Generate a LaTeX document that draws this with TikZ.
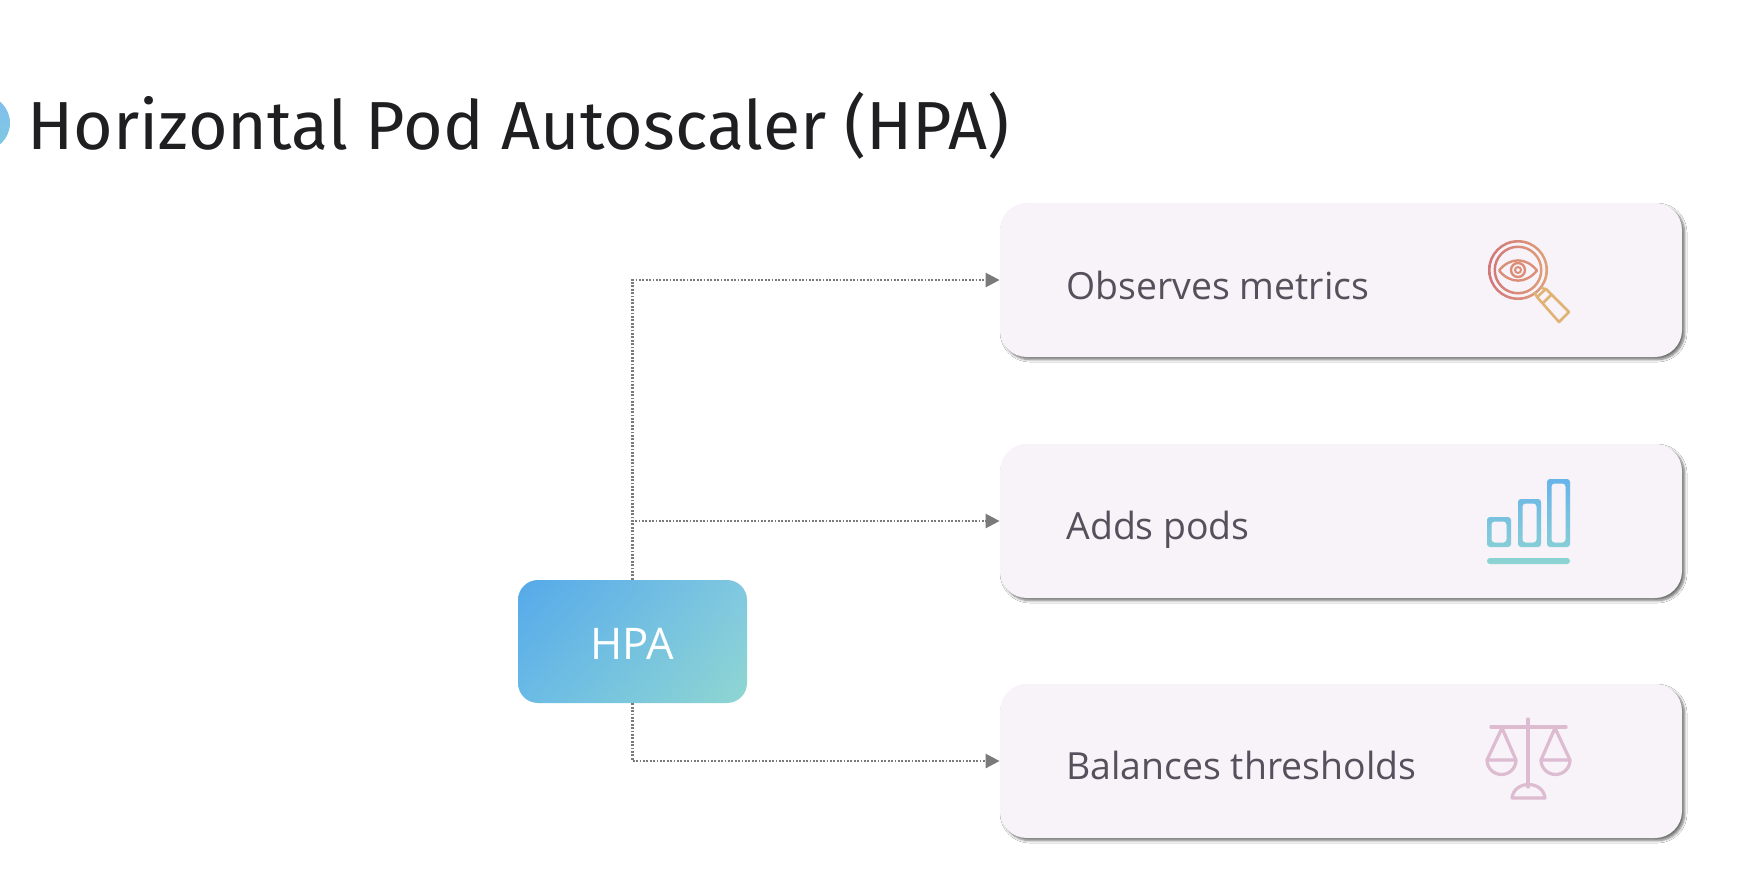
\documentclass[tikz,border=0pt]{standalone}
\usepackage{fontspec}
\setmainfont{Open Sans}
\newfontfamily\titlefont{Fira Sans}
\usetikzlibrary{arrows.meta,shadows.blur,shadings}
\definecolor{cardfill}{HTML}{F7F3F9}
\definecolor{cardtext}{HTML}{55505C}
\definecolor{titleink}{HTML}{1F1F22}
\definecolor{linkgray}{HTML}{7A7A7A}
\definecolor{pinkicon}{HTML}{DDBBD0}
\definecolor{HpaA}{HTML}{55A9E9}
\definecolor{HpaB}{HTML}{80C8E0}
\definecolor{HpaC}{HTML}{6ABBE6}
\definecolor{HpaD}{HTML}{8FD6D1}
\definecolor{EyeInk}{HTML}{DB8F78}
\definecolor{HandleInk}{HTML}{E0B274}
\definecolor{RingA}{HTML}{D2747A}
\definecolor{RingB}{HTML}{DFA277}
\tikzset{
  card/.style={rectangle,fill=cardfill,rounded corners=13.5pt,minimum width=341pt,minimum height=77pt,inner sep=0pt,
    blur shadow={shadow xshift=1.3pt,shadow yshift=-1.3pt,shadow blur steps=6,shadow blur radius=1.2pt,shadow opacity=55}},
  cardlabel/.style={anchor=base west,inner sep=0pt,text=cardtext,font=\fontsize{18.7pt}{22pt}\selectfont},
  link/.style={draw=linkgray,line width=1.3pt,dash pattern=on .9pt off .8pt,-{Triangle[length=7pt,width=7pt,fill=linkgray,sep=0pt]}},
  hpabox/.style={rectangle,rounded corners=10pt,minimum width=114.5pt,minimum height=61.5pt,inner sep=0pt,text=white,
    shading=bilinear interpolation,upper left=HpaA,upper right=HpaB,lower left=HpaC,lower right=HpaD},
  pinkline/.style={draw=pinkicon,line width=1.6pt,line join=round,line cap=round},
}
\begin{document}
\begin{tikzpicture}[x=0.5pt,y=-0.5pt]
\useasboundingbox (0,0) rectangle (1752,880);
\fill[white] (0,0) rectangle (1752,880);
% title
\begin{scope}
\clip (0,0) rectangle (1752,880);
\shade[top color=HpaA!75!white,bottom color=HpaB] (-18,123) circle[radius=28];
\end{scope}
\node[anchor=base west,inner sep=0pt,text=titleink,font=\titlefont\fontsize{34pt}{40pt}\selectfont] (title) at (27,149) {Horizontal Pod Autoscaler (HPA)};
% cards
\node[card] (c1) at (1341,280) {};
\node[card] (c2) at (1341,521) {};
\node[card] (c3) at (1341,761) {};
\node[cardlabel] (t1) at (1066,299) {Observes metrics};
\node[cardlabel] (t2) at (1066,539) {Adds pods};
\node[cardlabel] (t3) at (1066,779) {Balances thresholds};
% hpa
\node[hpabox,shade] (hpa) at (632.5,641.5) {};
\node[text=white,inner sep=0pt,font=\fontsize{21.8pt}{24pt}\selectfont] (hpat) at (632,644) {HPA};
% links
\draw[link] (hpa.north) |- (c1.west);
\draw[link] (hpa.north) |- (c2.west);
\draw[link] (hpa.south) |- (c3.west);
% magnifier icon
\begin{scope}[even odd rule]
\clip (1518,270) circle[radius=30] (1518,270) circle[radius=27.5]
  (1518,270) circle[radius=24.5] (1518,270) circle[radius=22];
\shade[left color=RingA,right color=RingB] (1485,237) rectangle (1550,303);
\end{scope}
\draw[draw=EyeInk,line width=1.2pt,line join=round] (1499,270.5) .. controls (1510,257) and (1526,257) .. (1537,270.5) .. controls (1526,284) and (1510,284) .. (1499,270.5);
\draw[draw=EyeInk,line width=1.2pt] (1518,270) circle[radius=7];
\draw[draw=EyeInk,line width=1pt] (1518,270) circle[radius=3];
\draw[draw=HandleInk,line width=1.3pt,line join=round] (1537,297) -- (1546,289) -- (1569,312) -- (1559,322) -- cycle;
\draw[draw=HandleInk,line width=1.3pt] (1543,303) -- (1552,294);
\draw[draw=HandleInk,line width=1.2pt] (1534,292) -- (1537,297) (1541,288) -- (1546,289);
% bars icon
\begin{scope}[even odd rule,rounded corners=1.5pt]
\clip
  (1487,517) rectangle (1511,547) (1491.5,521.5) rectangle (1506.5,542.5)
  (1518,499) rectangle (1541,547) (1522.5,503.5) rectangle (1536.5,542.5)
  (1547,479) rectangle (1570,547) (1551.5,483.5) rectangle (1565.5,542.5)
  (1487,558) rectangle (1570,564);
\shade[top color=HpaA!90!white,bottom color=HpaD] (1480,475) rectangle (1575,568);
\end{scope}
% scales icon
\draw[pinkline] (1528,719) -- (1528,787);
\draw[pinkline] (1491,727) -- (1566,727);
\draw[pinkline] (1487,760) -- (1502,728) -- (1516,760);
\draw[pinkline] (1541,760) -- (1555,728) -- (1570,760);
\draw[pinkline] (1516,760) -- (1487,760) arc[start angle=180,end angle=0,radius=14.5];
\draw[pinkline] (1570,760) -- (1541,760) arc[start angle=180,end angle=0,radius=14.5];
\draw[pinkline] (1512,798) -- (1545,798) .. controls (1543,780) and (1514,780) .. (1512,798);
\end{tikzpicture}
\end{document}
